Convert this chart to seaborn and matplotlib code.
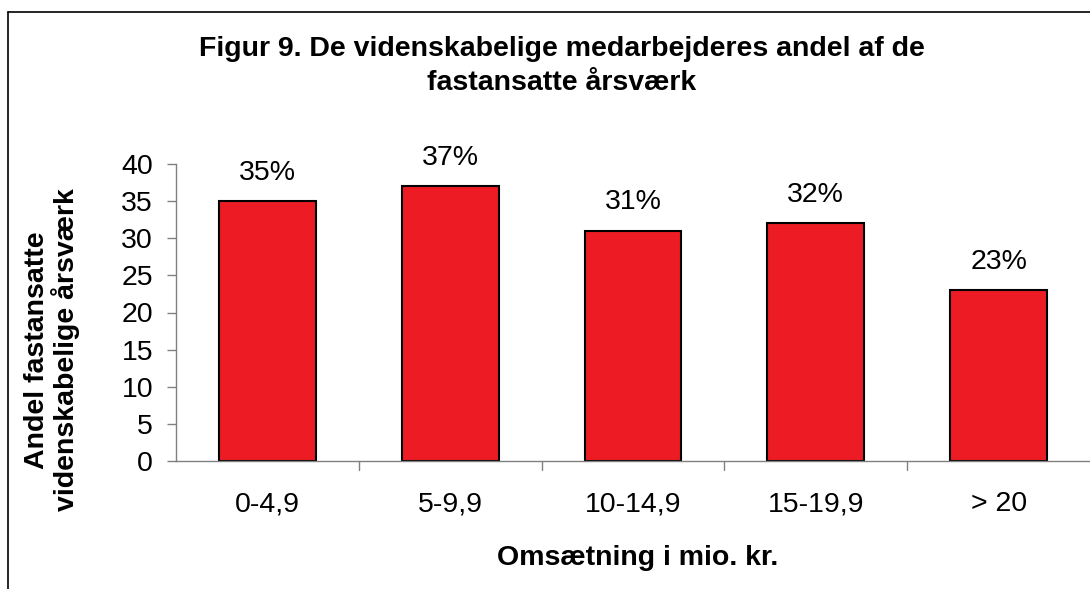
import matplotlib
matplotlib.use("Agg")
import matplotlib.pyplot as plt
import seaborn as sns
import pandas as pd
from matplotlib.lines import Line2D

categories = ["0-4,9", "5-9,9", "10-14,9", "15-19,9", "> 20"]
values = [35, 37, 31, 32, 23]
labels = ["35%", "37%", "31%", "32%", "23%"]
yticks = [0, 5, 10, 15, 20, 25, 30, 35, 40]

sns.set_theme(style="white")
plt.rcParams['font.family'] = ['Liberation Sans', 'DejaVu Sans']
plt.rcParams['text.color'] = 'black'
plt.rcParams['ytick.labelcolor'] = 'black'

FS = 20.5

df = pd.DataFrame({"kat": categories, "val": values})

fig = plt.figure(figsize=(10.9, 5.89), dpi=100)
ax = fig.add_axes([176/1090, 1 - 461/589, 1 - 176/1090, (461 - 164)/589])

sns.barplot(data=df, x="kat", y="val", ax=ax, color="#ED1C24", saturation=1,
            width=0.53, edgecolor="black", linewidth=1.5)

ax.set_ylim(0, 40)
ax.set_xlim(-0.5, 4.5)
ax.set_yticks(yticks)
ax.set_yticklabels([str(t) for t in yticks], fontsize=FS, color="black")
ax.set_xticks([])
ax.tick_params(axis="y", direction="out", length=6.5, width=1, color="#808080", pad=10, left=True)
for i, c in enumerate(categories):
    ax.text(i, -0.145, c, transform=ax.get_xaxis_transform(), ha="center", va="center",
            fontsize=FS, color="black")
# tick marks between categories
for k in range(1, 5):
    ax.plot([k - 0.5, k - 0.5], [0, -0.03], transform=ax.get_xaxis_transform(),
            color="#808080", lw=1, clip_on=False)

for s in ["top", "right"]:
    ax.spines[s].set_visible(False)
for s in ["left", "bottom"]:
    ax.spines[s].set_color("#808080")
    ax.spines[s].set_linewidth(1)

for i, (v, lab) in enumerate(zip(values, labels)):
    ax.annotate(lab, (i, v), xytext=(0, 20.5), textcoords="offset points",
                ha="center", va="center", fontsize=FS, color="black")

ax.set_xlabel("")
ax.set_ylabel("")
fig.text(638/1090, 1 - 558/589, "Omsætning i mio. kr.", ha="center", va="center",
         fontsize=FS, fontweight="bold", color="black")
fig.text(52/1090, 1 - 350/589, "Andel fastansatte\nvidenskabelige årsværk", ha="center",
         va="center", rotation=90, fontsize=FS, fontweight="bold", linespacing=1.07,
         color="black")
fig.text(562/1090, 1 - 66/589, "Figur 9. De videnskabelige medarbejderes andel af de\nfastansatte årsværk",
         ha="center", va="center", fontsize=FS, fontweight="bold", linespacing=1.38,
         color="black")

# outer frame
fig.add_artist(Line2D([8/1090, 8/1090], [0, 1 - 12/589], transform=fig.transFigure, color="black", lw=1.2))
fig.add_artist(Line2D([8/1090, 1], [1 - 12/589, 1 - 12/589], transform=fig.transFigure, color="black", lw=1.2))

fig.savefig("out.png", dpi=100)
